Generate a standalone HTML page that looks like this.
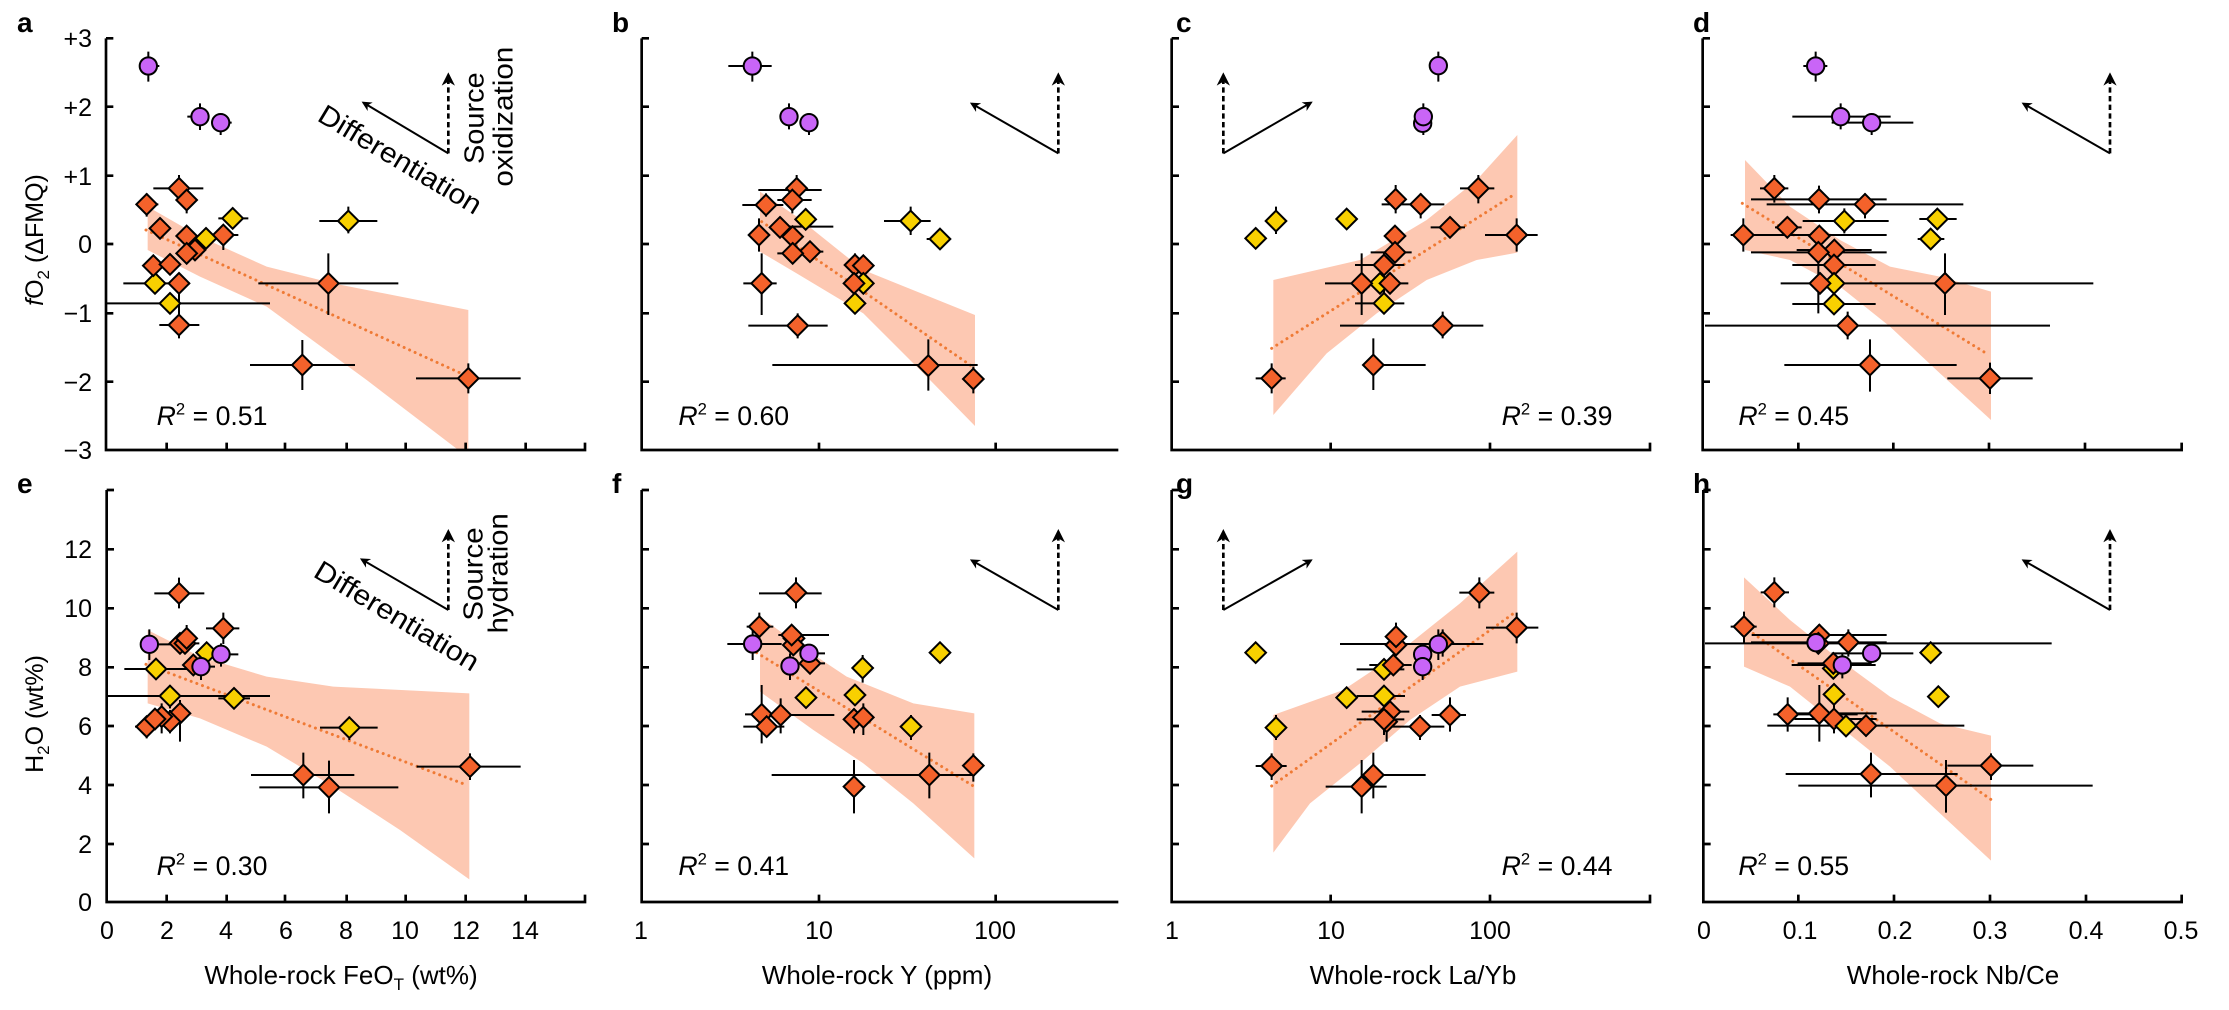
<!DOCTYPE html>
<html><head><meta charset="utf-8"><style>
html,body{margin:0;padding:0;background:#fff}
svg{display:block;font-family:"Liberation Sans",Arial,sans-serif}
</style></head><body>
<svg width="2229" height="1010" viewBox="0 0 2229 1010" xmlns="http://www.w3.org/2000/svg">
<defs>
<path id="o" d="M0,-31L31,0L0,31L-31,0Z" fill="#f4622b" stroke="#000" stroke-width="6" stroke-linejoin="miter"/>
<path id="y" d="M0,-31L31,0L0,31L-31,0Z" fill="#f8d000" stroke="#000" stroke-width="6"/>
<circle id="p" r="26" fill="#c965f7" stroke="#000" stroke-width="6"/>
<marker id="ah" viewBox="0 0 10 10" refX="8" refY="5" markerWidth="5" markerHeight="5" orient="auto"><path d="M0,0L10,5L0,10L3,5Z" fill="#000"/></marker>
</defs>
<style>
.ax{fill:none;stroke:#000;stroke-width:8}
.eb{fill:none;stroke:#000;stroke-width:6}
.band{fill:#fdc8b2}
.dl{fill:none;stroke:#ef7a35;stroke-width:9;stroke-dasharray:0.1 18;stroke-linecap:round}
.ar{stroke:#000;stroke-width:6;fill:none}
.ard{stroke:#000;stroke-width:8;fill:none;stroke-dasharray:16 10}
.r2{font-size:80px}
.ann{font-size:84px}
.tl{font-size:25px}
.tt{font-size:26px}
</style>

<!-- outside labels -->
<g font-weight="bold" font-size="28">
<text x="17" y="32">a</text><text x="612" y="32">b</text><text x="1176" y="32">c</text><text x="1693" y="32">d</text>
<text x="17" y="493">e</text><text x="612" y="493">f</text><text x="1176" y="493">g</text><text x="1693" y="493">h</text>
</g>
<g class="tl" text-anchor="end">
<text x="92" y="47">+3</text><text x="92" y="116">+2</text><text x="92" y="185">+1</text><text x="92" y="253">0</text><text x="92" y="322">−1</text><text x="92" y="391">−2</text><text x="92" y="459">−3</text>
<text x="92" y="558">12</text><text x="92" y="617">10</text><text x="92" y="676">8</text><text x="92" y="735">6</text><text x="92" y="794">4</text><text x="92" y="853">2</text><text x="92" y="911">0</text>
</g>
<g class="tl" text-anchor="middle">
<text x="107" y="939">0</text><text x="167" y="939">2</text><text x="226" y="939">4</text><text x="286" y="939">6</text><text x="346" y="939">8</text><text x="405" y="939">10</text><text x="466" y="939">12</text><text x="525" y="939">14</text>
<text x="641" y="939">1</text><text x="819" y="939">10</text><text x="995" y="939">100</text>
<text x="1172" y="939">1</text><text x="1331" y="939">10</text><text x="1490" y="939">100</text>
<text x="1704" y="939">0</text><text x="1800" y="939">0.1</text><text x="1895" y="939">0.2</text><text x="1990" y="939">0.3</text><text x="2086" y="939">0.4</text><text x="2181" y="939">0.5</text>
</g>
<g class="tt" text-anchor="middle">
<text x="341" y="984">Whole-rock FeO<tspan font-size="17" dy="6">T</tspan><tspan dy="-6"> (wt%)</tspan></text>
<text x="877" y="984">Whole-rock Y (ppm)</text>
<text x="1413" y="984">Whole-rock La/Yb</text>
<text x="1953" y="984">Whole-rock Nb/Ce</text>
</g>
<text class="tl" font-size="26" text-anchor="middle" transform="translate(43,240) rotate(-90)"><tspan font-style="italic">f</tspan>O<tspan font-size="17" dy="6">2</tspan><tspan dy="-6"> (ΔFMQ)</tspan></text>
<text class="tl" font-size="26" text-anchor="middle" transform="translate(43,714) rotate(-90)">H<tspan font-size="17" dy="6">2</tspan><tspan dy="-6">O (wt%)</tspan></text>

<!-- PANEL A -->
<g transform="translate(100,20) scale(0.33333)">
<polygon class="band" points="143,560 300,650 500,740 700,790 1105,870 1105,1290 1075,1290 800,1080 500,860 300,770 143,690"/>
<path class="dl" d="M138 630L1105 1070"/>
<path class="ax" d="M18 55V1290H1455M18 55H40M18 260H40M18 467H40M18 672H40M18 880H40M18 1085H40M200 1290V1268M380 1290V1268M555 1290V1268M740 1290V1268M917 1290V1268M1097 1290V1268M1277 1290V1268M1455 1294V1268"/>
<path class="eb" d="M118 138H178M145 95V185M262 290H325M300 250V330M335 308H395M362 285V345M160 505H310M237 465V545M260 500V580M108 553H175M140 520V590M235 648H285M345 645H415M370 620V690M235 700H285M260 675V730M135 737H185M237 760V880M475 790H895M685 700V885M178 915H298M237 880V955M450 1035H765M607 960V1110M948 1075H1262M1105 1030V1120M355 595H445M398 565V625M658 603H832M745 560V640M290 655H345M70 790H270M165 760V815M20 850H510M210 820V880"/>
<use href="#o" x="237" y="790"/><use href="#o" x="685" y="790"/><use href="#o" x="237" y="915"/><use href="#o" x="607" y="1035"/><use href="#o" x="1105" y="1075"/>
<use href="#y" x="165" y="790"/><use href="#y" x="210" y="850"/>
<use href="#o" x="237" y="505"/><use href="#o" x="260" y="540"/><use href="#o" x="140" y="553"/><use href="#o" x="180" y="625"/><use href="#o" x="160" y="737"/><use href="#o" x="210" y="733"/><use href="#o" x="260" y="648"/><use href="#o" x="370" y="645"/><use href="#o" x="285" y="690"/><use href="#o" x="260" y="700"/>
<use href="#y" x="398" y="595"/><use href="#y" x="745" y="603"/><use href="#y" x="318" y="655"/>
<use href="#p" x="145" y="138"/><use href="#p" x="300" y="290"/><use href="#p" x="362" y="308"/>
<path class="ar" marker-end="url(#ah)" d="M1045 400L790 248"/><path class="ard" marker-end="url(#ah)" d="M1045 400V165"/>
<text class="ann" transform="translate(648,300) rotate(31)" textLength="555" lengthAdjust="spacingAndGlyphs">Differentiation</text>
<text class="ann" transform="translate(1150,432) rotate(-90)" textLength="275" lengthAdjust="spacingAndGlyphs">Source</text>
<text class="ann" transform="translate(1238,500) rotate(-90)" textLength="420" lengthAdjust="spacingAndGlyphs">oxidization</text>
<text class="r2" x="170" y="1215"><tspan font-style="italic">R</tspan><tspan font-size="50" dy="-32">2</tspan><tspan dy="32"> = 0.51</tspan></text>
</g>

<!-- PANEL B -->
<g transform="translate(630,20) scale(0.33333)">
<polygon class="band" points="390,515 500,590 700,750 1035,885 1035,1218 900,1080 700,880 500,760 390,695"/>
<path class="dl" d="M395 605L1035 1045"/>
<path class="ax" d="M35 55V1290H1465M35 55H57M35 260H57M35 467H57M35 672H57M35 880H57M35 1085H57M567 1290V1268M1097 1290V1268"/>
<path class="eb" d="M295 138H425M367 95V185M477 250V328M510 308H565M537 280V345M385 510H575M500 465V540M442 540H545M487 518V580M337 555H460M408 520V590M420 622H485M450 620H610M387 595V695M515 695H580M442 700H540M488 670V730M675 700V770M340 790H440M395 700V885M355 917H593M503 880V955M427 1035H1043M895 958V1112M1030 1040V1120M527 565V630M762 603H902M842 560V645M890 657H960M700 760V820"/>
<use href="#o" x="395" y="790"/><use href="#o" x="503" y="917"/><use href="#o" x="895" y="1037"/><use href="#o" x="1030" y="1077"/>
<use href="#o" x="500" y="505"/><use href="#o" x="487" y="540"/><use href="#o" x="408" y="555"/><use href="#y" x="527" y="598"/><use href="#o" x="450" y="622"/><use href="#o" x="488" y="650"/><use href="#o" x="387" y="645"/><use href="#o" x="540" y="695"/><use href="#o" x="488" y="700"/>
<use href="#o" x="675" y="735"/><use href="#o" x="700" y="737"/><use href="#y" x="700" y="790"/><use href="#o" x="672" y="790"/><use href="#y" x="675" y="850"/>
<use href="#y" x="842" y="603"/><use href="#y" x="930" y="657"/>
<use href="#p" x="367" y="138"/><use href="#p" x="477" y="290"/><use href="#p" x="537" y="308"/>
<path class="ar" marker-end="url(#ah)" d="M1285 400L1025 251"/><path class="ard" marker-end="url(#ah)" d="M1285 400V165"/>
<text class="r2" x="145" y="1215"><tspan font-style="italic">R</tspan><tspan font-size="50" dy="-32">2</tspan><tspan dy="32"> = 0.60</tspan></text>
</g>

<!-- PANEL C -->
<g transform="translate(1160,20) scale(0.33333)">
<polygon class="band" points="340,780 600,720 800,600 950,480 1072,345 1072,698 950,720 800,780 650,880 500,1000 340,1185"/>
<path class="dl" d="M335 985L1065 522"/>
<path class="ax" d="M35 55V1290H1470M35 55H57M35 260H57M35 467H57M35 672H57M35 880H57M35 1085H57M512 1290V1268M990 1290V1268M1470 1294V1268"/>
<path class="eb" d="M835 95V185M790 250V345M900 505H1003M955 465V550M707 495V580M665 553H853M782 520V595M812 622H915M975 645H1133M1070 595V695M632 697H755M585 735H733M672 700V880M495 790H745M605 700V885M848 917H540M848 917H970M848 875V955M640 1035H797M640 955V1110M287 1075H377M335 1030V1120M348 560V642M585 850H733M672 820V880"/>
<use href="#y" x="348" y="603"/><use href="#y" x="287" y="655"/><use href="#y" x="560" y="597"/>
<use href="#o" x="955" y="505"/><use href="#o" x="707" y="538"/><use href="#o" x="782" y="553"/><use href="#o" x="870" y="622"/><use href="#o" x="1070" y="645"/><use href="#o" x="705" y="648"/><use href="#o" x="705" y="697"/><use href="#o" x="672" y="735"/><use href="#y" x="660" y="790"/><use href="#o" x="605" y="790"/><use href="#o" x="690" y="790"/><use href="#y" x="672" y="850"/><use href="#o" x="848" y="917"/><use href="#o" x="640" y="1035"/><use href="#o" x="335" y="1075"/>
<use href="#p" x="835" y="137"/><use href="#p" x="788" y="310"/><use href="#p" x="790" y="290"/>
<path class="ar" marker-end="url(#ah)" d="M190 400L453 248"/><path class="ard" marker-end="url(#ah)" d="M190 400V165"/>
<text class="r2" x="1025" y="1215"><tspan font-style="italic">R</tspan><tspan font-size="50" dy="-32">2</tspan><tspan dy="32"> = 0.39</tspan></text>
</g>

<!-- PANEL D -->
<g transform="translate(1690,20) scale(0.33333)">
<polygon class="band" points="165,420 300,560 450,660 600,740 750,770 903,815 903,1200 750,1060 600,920 450,800 300,720 165,690"/>
<path class="dl" d="M157 550L897 1005"/>
<path class="ax" d="M38 55V1290H1475M38 55H60M38 260H60M38 467H60M38 672H60M38 880H60M38 1085H60M325 1290V1268M610 1290V1268M897 1290V1268M1185 1290V1268M1475 1294V1268"/>
<path class="eb" d="M340 138H412M377 95V185M307 290H602M452 250V328M425 308H670M545 280V345M210 505H295M253 465V548M183 538H590M387 497V580M230 553H820M525 520V595M255 622H335M122 645H590M160 595V695M183 697H590M385 650V880M320 690H545M307 735H557M432 700V770M272 790H557M307 790H1210M765 700V885M45 917H1080M473 875V958M283 1035H800M540 958V1115M772 1075H1028M900 1028V1122M338 603H596M463 565V640M688 597H800M742 565V630M683 657H763M307 852H557"/>
<use href="#o" x="253" y="505"/><use href="#o" x="387" y="538"/><use href="#o" x="525" y="553"/><use href="#y" x="463" y="603"/><use href="#o" x="292" y="622"/><use href="#o" x="160" y="645"/><use href="#o" x="388" y="648"/><use href="#o" x="433" y="690"/><use href="#o" x="385" y="697"/><use href="#o" x="432" y="735"/><use href="#y" x="432" y="790"/><use href="#o" x="390" y="790"/><use href="#y" x="432" y="852"/><use href="#o" x="765" y="790"/><use href="#o" x="473" y="917"/><use href="#o" x="540" y="1035"/><use href="#o" x="900" y="1075"/>
<use href="#y" x="742" y="597"/><use href="#y" x="722" y="657"/>
<use href="#p" x="377" y="138"/><use href="#p" x="452" y="290"/><use href="#p" x="545" y="308"/>
<path class="ar" marker-end="url(#ah)" d="M1260 400L1000 251"/><path class="ard" marker-end="url(#ah)" d="M1260 400V165"/>
<text class="r2" x="145" y="1215"><tspan font-style="italic">R</tspan><tspan font-size="50" dy="-32">2</tspan><tspan dy="32"> = 0.45</tspan></text>
</g>

<!-- PANEL E -->
<g transform="translate(100,470) scale(0.33333)">
<polygon class="band" points="143,480 300,560 500,620 700,650 1108,670 1108,1228 900,1080 700,950 500,830 300,745 143,700"/>
<path class="dl" d="M138 583L1100 945"/>
<path class="ax" d="M20 60V1296H1455M20 60H42M20 238H42M20 415H42M20 592H42M20 768H42M20 945H42M20 1122H42M200 1296V1274M380 1296V1274M555 1296V1274M740 1296V1274M917 1296V1274M1097 1296V1274M1277 1296V1274M1455 1300V1274"/>
<path class="eb" d="M120 523H230M148 478V570M335 553H415M363 520V590M275 590H345M303 560V630M163 370H313M237 323V415M318 475H418M370 428V522M260 465V545M213 520H298M240 690V815M210 720V790M185 700V790M105 770H175M140 740V805M950 890H1262M1110 850V930M453 915H763M610 848V985M478 952H895M687 872V1030M290 548H345M73 597H290M168 565V630M20 678H510M210 645V715M355 685H450M660 773H833M748 740V810"/>
<use href="#o" x="237" y="370"/><use href="#o" x="370" y="475"/><use href="#o" x="240" y="520"/><use href="#o" x="255" y="520"/><use href="#o" x="260" y="505"/><use href="#o" x="280" y="585"/><use href="#y" x="320" y="548"/>
<use href="#o" x="240" y="730"/><use href="#o" x="210" y="755"/><use href="#o" x="185" y="740"/><use href="#o" x="140" y="770"/><use href="#o" x="165" y="747"/>
<use href="#y" x="168" y="597"/><use href="#y" x="210" y="678"/><use href="#y" x="402" y="685"/><use href="#y" x="748" y="773"/>
<use href="#o" x="1110" y="890"/><use href="#o" x="610" y="915"/><use href="#o" x="687" y="952"/>
<use href="#p" x="148" y="523"/><use href="#p" x="363" y="553"/><use href="#p" x="303" y="590"/>
<path class="ar" marker-end="url(#ah)" d="M1045 420L785 268"/><path class="ard" marker-end="url(#ah)" d="M1045 420V185"/>
<text class="ann" transform="translate(636,318) rotate(31)" textLength="560" lengthAdjust="spacingAndGlyphs">Differentiation</text>
<text class="ann" transform="translate(1148,452) rotate(-90)" textLength="280" lengthAdjust="spacingAndGlyphs">Source</text>
<text class="ann" transform="translate(1222,490) rotate(-90)" textLength="360" lengthAdjust="spacingAndGlyphs">hydration</text>
<text class="r2" x="170" y="1215"><tspan font-style="italic">R</tspan><tspan font-size="50" dy="-32">2</tspan><tspan dy="32"> = 0.30</tspan></text>
</g>

<!-- PANEL F -->
<g transform="translate(630,470) scale(0.33333)">
<polygon class="band" points="390,440 500,520 650,620 850,700 1033,730 1033,1165 850,1000 700,880 550,780 390,665"/>
<path class="dl" d="M380 548L1030 948"/>
<path class="ax" d="M35 60V1296H1465M35 60H57M35 238H57M35 415H57M35 592H57M35 768H57M35 945H57M35 1122H57M567 1296V1274M1097 1296V1274"/>
<path class="eb" d="M292 522H455M368 478V570M510 550H585M480 550V630M387 370H575M498 322V415M350 470H430M388 428V512M445 495H597M510 580H585M345 733H455M395 645V820M340 770H463M402 735H613M452 685V790M672 715V790M700 700V795M425 915H1035M898 848V985M1030 850V935M672 870V1030M698 555V638M843 735V810"/>
<use href="#o" x="498" y="368"/><use href="#o" x="388" y="470"/><use href="#o" x="492" y="505"/><use href="#o" x="490" y="525"/><use href="#o" x="485" y="495"/><use href="#o" x="540" y="580"/>
<use href="#o" x="395" y="733"/><use href="#o" x="410" y="770"/><use href="#o" x="452" y="735"/><use href="#o" x="672" y="748"/><use href="#o" x="700" y="742"/><use href="#o" x="898" y="915"/><use href="#o" x="1030" y="887"/><use href="#o" x="672" y="950"/>
<use href="#y" x="698" y="594"/><use href="#y" x="930" y="548"/><use href="#y" x="528" y="683"/><use href="#y" x="675" y="675"/><use href="#y" x="843" y="770"/>
<use href="#p" x="368" y="522"/><use href="#p" x="537" y="550"/><use href="#p" x="480" y="588"/>
<path class="ar" marker-end="url(#ah)" d="M1285 420L1025 271"/><path class="ard" marker-end="url(#ah)" d="M1285 420V185"/>
<text class="r2" x="145" y="1215"><tspan font-style="italic">R</tspan><tspan font-size="50" dy="-32">2</tspan><tspan dy="32"> = 0.41</tspan></text>
</g>

<!-- PANEL G -->
<g transform="translate(1160,470) scale(0.33333)">
<polygon class="band" points="340,735 550,660 700,560 900,400 1072,245 1072,605 900,650 750,750 600,880 450,1000 340,1148"/>
<path class="dl" d="M335 948L1068 425"/>
<path class="ax" d="M35 60V1296H1470M35 60H57M35 238H57M35 415H57M35 592H57M35 768H57M35 945H57M35 1122H57M512 1296V1274M990 1296V1274M1470 1300V1274"/>
<path class="eb" d="M835 478V570M788 555V630M898 368H1003M958 322V415M978 473H1135M1070 428V520M540 522H970M708 458V540M848 478V560M628 585H755M605 725H748M590 748H733M672 700V795M680 720V815M680 770H853M780 735V810M815 735H918M870 682V785M287 888H380M335 850V930M640 915H797M640 848V985M497 950H680M605 870V1030M348 735V810M590 678H735M590 598H733"/>
<use href="#y" x="287" y="548"/><use href="#y" x="348" y="773"/><use href="#y" x="560" y="683"/>
<use href="#o" x="958" y="368"/><use href="#o" x="1070" y="473"/><use href="#o" x="848" y="517"/><use href="#o" x="708" y="525"/><use href="#o" x="708" y="500"/><use href="#y" x="672" y="598"/><use href="#o" x="700" y="585"/><use href="#o" x="690" y="725"/><use href="#y" x="672" y="678"/><use href="#o" x="680" y="755"/><use href="#o" x="672" y="748"/><use href="#o" x="780" y="770"/><use href="#o" x="870" y="735"/><use href="#o" x="335" y="888"/><use href="#o" x="640" y="915"/><use href="#o" x="605" y="950"/>
<use href="#p" x="835" y="523"/><use href="#p" x="788" y="553"/><use href="#p" x="788" y="590"/>
<path class="ar" marker-end="url(#ah)" d="M190 420L453 271"/><path class="ard" marker-end="url(#ah)" d="M190 420V185"/>
<text class="r2" x="1025" y="1215"><tspan font-style="italic">R</tspan><tspan font-size="50" dy="-32">2</tspan><tspan dy="32"> = 0.44</tspan></text>
</g>

<!-- PANEL H -->
<g transform="translate(1690,470) scale(0.33333)">
<polygon class="band" points="162,322 300,450 450,570 600,680 750,760 903,797 903,1172 750,1030 600,890 450,770 300,650 162,590"/>
<path class="dl" d="M160 470L905 990"/>
<path class="ax" d="M40 60V1296H1475M40 60H62M40 238H62M40 415H62M40 592H62M40 768H62M40 945H62M40 1122H62M325 1296V1274M612 1296V1274M900 1296V1274M1188 1296V1274M1475 1300V1274"/>
<path class="eb" d="M185 518H590M425 550H670M305 585H557M457 550V625M212 367H297M253 322V412M122 470H200M162 425V518M185 495H590M388 462V535M45 520H1085M183 517H590M475 478V560M323 580H545M250 733H503M293 682V785M300 730H560M388 645V815M313 747H560M432 710V790M232 767H823M528 735V800M772 887H1030M903 850V930M287 912H803M543 848V982M325 947H1208M768 870V1028M400 673H465M432 640V710M435 768H560"/>
<use href="#o" x="253" y="367"/><use href="#o" x="162" y="470"/><use href="#o" x="388" y="495"/><use href="#o" x="385" y="520"/><use href="#o" x="475" y="517"/><use href="#y" x="430" y="595"/><use href="#o" x="430" y="580"/>
<use href="#o" x="293" y="733"/><use href="#o" x="388" y="730"/><use href="#o" x="432" y="747"/><use href="#y" x="468" y="768"/><use href="#o" x="528" y="767"/><use href="#y" x="432" y="673"/>
<use href="#o" x="903" y="887"/><use href="#o" x="543" y="912"/><use href="#o" x="768" y="947"/>
<use href="#y" x="722" y="548"/><use href="#y" x="745" y="680"/>
<use href="#p" x="378" y="518"/><use href="#p" x="545" y="550"/><use href="#p" x="457" y="585"/>
<path class="ar" marker-end="url(#ah)" d="M1260 420L1000 271"/><path class="ard" marker-end="url(#ah)" d="M1260 420V185"/>
<text class="r2" x="145" y="1215"><tspan font-style="italic">R</tspan><tspan font-size="50" dy="-32">2</tspan><tspan dy="32"> = 0.55</tspan></text>
</g>
</svg>
</body></html>
